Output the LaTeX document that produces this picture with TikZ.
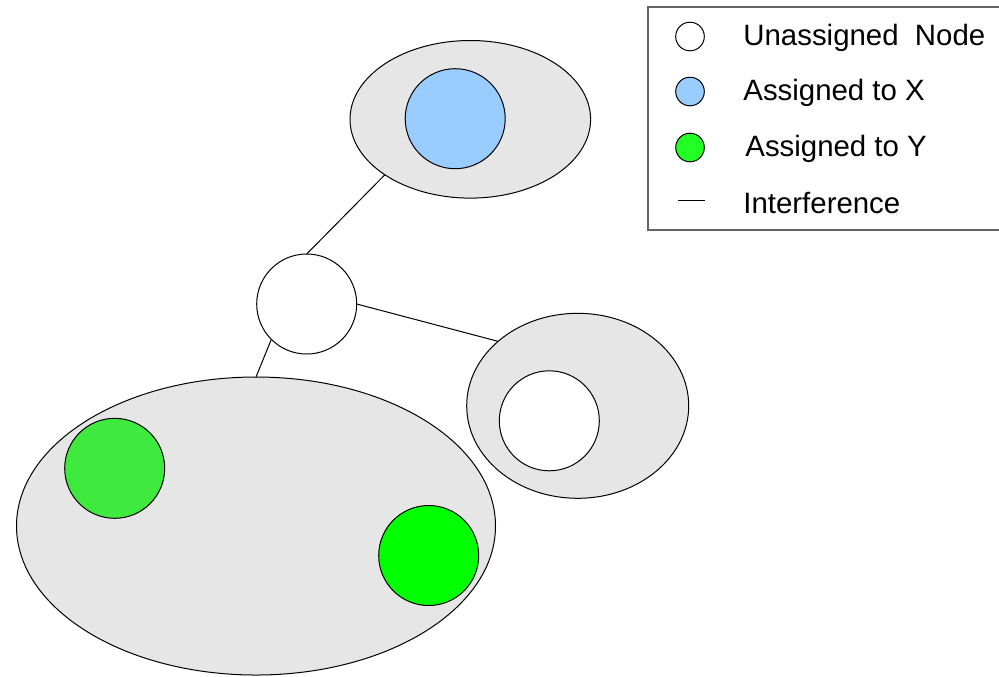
\documentclass[tikz,border=0pt]{standalone}
\usepackage{fontspec}
\setmainfont{Liberation Sans}
\usetikzlibrary{shapes, positioning}
\definecolor{my_gray}{RGB}{230, 230, 230}
\definecolor{my_blue}{RGB}{153, 204, 255}
\definecolor{my_green}{RGB}{63, 234, 63}
\definecolor{my_brightgreen}{RGB}{0, 255, 0}
\definecolor{my_keygreen}{RGB}{34, 255, 34}
\definecolor{my_border}{RGB}{100, 100, 100}
\tikzset {
  group/.style = {draw, ellipse, fill=my_gray, inner sep=0, outer sep=0, line width=0.5pt},
  vertex/.style = {draw, circle, fill=white, minimum size=50pt, inner sep=0, outer sep=0, line width=0.5pt},
  keyvertex/.style = {draw, circle, fill=white, minimum size=14.3pt, inner sep=0, outer sep=0, line width=0.5pt},
  keytext/.style = {anchor=base west, inner sep=0, font=\fontsize{14.7}{17}\selectfont},
  line/.style = {-, line width=0.5pt, color=black},
}

\begin{document}
\begin{tikzpicture}[x=0.5pt, y=-0.5pt]
    \useasboundingbox (0,0) rectangle (999,676);

    % groups
    \node[group, minimum width=120.3pt, minimum height=78.8pt, name=topgrp] (topgrp) at (470.3,119.3) {};
    \node[group, minimum width=111pt, minimum height=92.5pt, name=rightgrp] (rightgrp) at (577.7,405.8) {};
    \node[group, minimum width=239.5pt, minimum height=149pt, name=biggrp] (biggrp) at (256,526) {};

    % nodes
    \node[vertex, fill=my_blue, name=nodex] (nodex) at (455.2,118.7) {};
    \node[vertex, name=mid] (mid) at (306.7,304) {};
    \node[vertex, name=inner] (inner) at (549.3,420.8) {};
    \node[vertex, fill=my_green, name=nodey1] (nodey1) at (114.7,468.3) {};
    \node[vertex, fill=my_brightgreen, name=nodey2] (nodey2) at (428.7,555.5) {};

    \draw[line] (mid.north) -- (topgrp.213);
    \draw[line] (mid.east) -- (rightgrp.141);
    \draw[line] (mid.225) -- (biggrp.north);

    % legend
    \draw[my_border, line width=0.75pt] (648,7) rectangle (1006,230);
    \node[keyvertex, name=keyfree] (keyfree) at (690,36.5) {};
    \node[keyvertex, fill=my_blue, name=keyx] (keyx) at (690,91.5) {};
    \node[keyvertex, fill=my_keygreen, name=keyy] (keyy) at (690,147.5) {};
    \coordinate (keylinea) at (678,200);
    \coordinate (keylineb) at (705,200);
    \draw[line] (keylinea) -- (keylineb);
    \node[keytext, name=freetext] (freetext) at (743,45) {Unassigned\ \ Node};
    \node[keytext, name=xtext] (xtext) at (743,100.5) {Assigned to X};
    \node[keytext, name=ytext] (ytext) at (745,156.5) {Assigned to Y};
    \node[keytext, name=lintext] (lintext) at (743,213) {Interference};

\end{tikzpicture}
\end{document}
